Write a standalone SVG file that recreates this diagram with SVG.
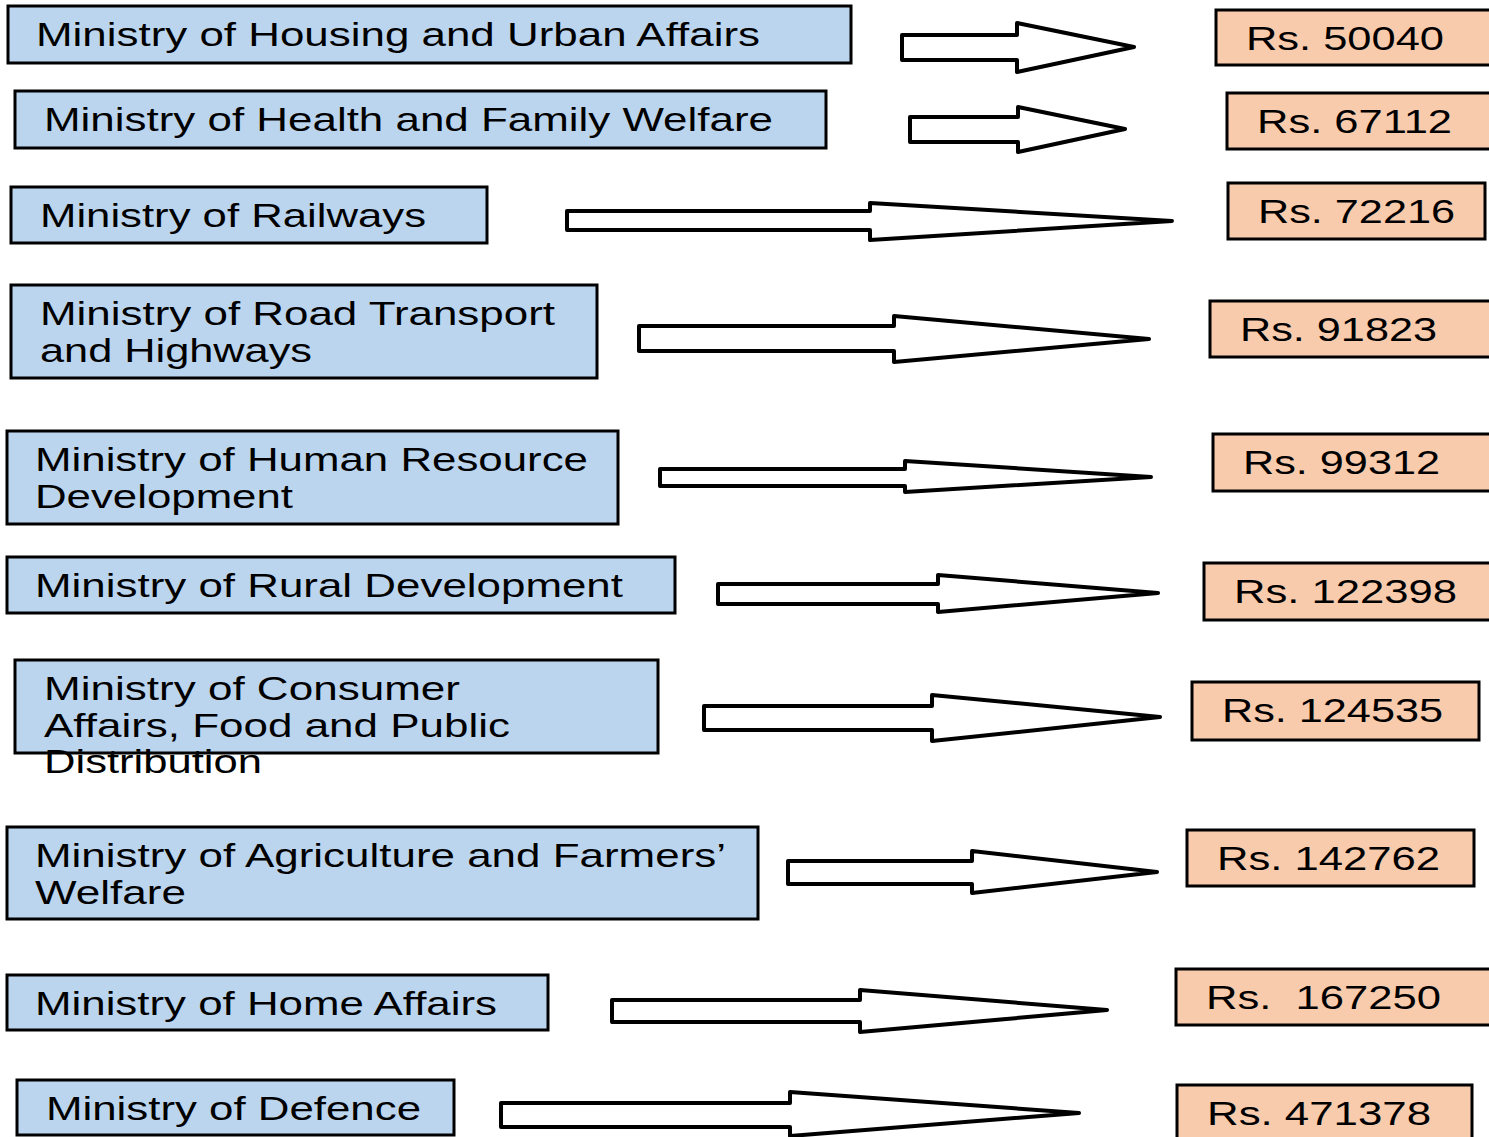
<svg xmlns="http://www.w3.org/2000/svg" width="1489" height="1137" viewBox="0 0 1489 1137">
<style>
.m{fill:#bcd5ee;stroke:#000;stroke-width:3}
.r{fill:#f8cbad;stroke:#000;stroke-width:3}
.t{font-family:"Liberation Sans",Arial,sans-serif;font-size:33px;fill:#000}
.a{fill:#fff;stroke:#000;stroke-width:4;stroke-linejoin:round}
</style>
<rect width="1489" height="1137" fill="#fff"/>
<g id="connectors">
<polygon class="a" points="902,35 1017,35 1017,23 1134,47 1017,72 1017,60 902,60"/>
<polygon class="a" points="910,117 1018,117 1018,107 1125,129 1018,152 1018,142 910,142"/>
<polygon class="a" points="567,211 870,211 870,203 1172,221 870,240 870,230 567,230"/>
<polygon class="a" points="639,326 894,326 894,316 1149,339 894,362 894,351 639,351"/>
<polygon class="a" points="660,469 905,469 905,461 1151,477 905,492 905,486 660,486"/>
<polygon class="a" points="718,584 938,584 938,575 1158,593 938,612 938,604 718,604"/>
<polygon class="a" points="704,706 932,706 932,695 1160,717 932,741 932,730 704,730"/>
<polygon class="a" points="788,861 972,861 972,851 1157,872 972,893 972,884 788,884"/>
<polygon class="a" points="612,1000 860,1000 860,990 1107,1010 860,1032 860,1022 612,1022"/>
<polygon class="a" points="501,1103 790,1103 790,1092 1079,1113 790,1136 790,1127 501,1127"/>
</g>
<g id="m1"><rect class="m" x="8" y="6" width="843" height="57"/><text class="t" x="36" y="46" textLength="724" lengthAdjust="spacingAndGlyphs">Ministry of Housing and Urban Affairs</text></g>
<g id="m2"><rect class="m" x="15" y="91" width="811" height="57"/><text class="t" x="44" y="131" textLength="729" lengthAdjust="spacingAndGlyphs">Ministry of Health and Family Welfare</text></g>
<g id="m3"><rect class="m" x="11" y="187" width="476" height="56"/><text class="t" x="40" y="227" textLength="386" lengthAdjust="spacingAndGlyphs">Ministry of Railways</text></g>
<g id="m4"><rect class="m" x="11" y="285" width="586" height="93"/><text class="t" x="40" y="325" textLength="515" lengthAdjust="spacingAndGlyphs">Ministry of Road Transport</text><text class="t" x="40" y="362" textLength="272" lengthAdjust="spacingAndGlyphs">and Highways</text></g>
<g id="m5"><rect class="m" x="7" y="431" width="611" height="93"/><text class="t" x="35" y="471" textLength="553" lengthAdjust="spacingAndGlyphs">Ministry of Human Resource</text><text class="t" x="35" y="508" textLength="258" lengthAdjust="spacingAndGlyphs">Development</text></g>
<g id="m6"><rect class="m" x="7" y="557" width="668" height="56"/><text class="t" x="35" y="597" textLength="588" lengthAdjust="spacingAndGlyphs">Ministry of Rural Development</text></g>
<g id="m7"><rect class="m" x="15" y="660" width="643" height="93"/><text class="t" x="44" y="700" textLength="416" lengthAdjust="spacingAndGlyphs">Ministry of Consumer</text><text class="t" x="44" y="737" textLength="466" lengthAdjust="spacingAndGlyphs">Affairs, Food and Public</text><text class="t" x="44" y="773" textLength="218" lengthAdjust="spacingAndGlyphs">Distribution</text></g>
<g id="m8"><rect class="m" x="7" y="827" width="751" height="92"/><text class="t" x="35" y="867" textLength="691" lengthAdjust="spacingAndGlyphs">Ministry of Agriculture and Farmers’</text><text class="t" x="35" y="904" textLength="151" lengthAdjust="spacingAndGlyphs">Welfare</text></g>
<g id="m9"><rect class="m" x="7" y="975" width="541" height="55"/><text class="t" x="35" y="1015" textLength="462" lengthAdjust="spacingAndGlyphs">Ministry of Home Affairs</text></g>
<g id="m10"><rect class="m" x="17" y="1080" width="437" height="55"/><text class="t" x="46" y="1120" textLength="375" lengthAdjust="spacingAndGlyphs">Ministry of Defence</text></g>
<g id="r1"><rect class="r" x="1216" y="10" width="280" height="55"/><text class="t" x="1246" y="50" textLength="198" lengthAdjust="spacingAndGlyphs">Rs. 50040</text></g>
<g id="r2"><rect class="r" x="1227" y="93" width="270" height="56"/><text class="t" x="1257" y="133" textLength="195" lengthAdjust="spacingAndGlyphs">Rs. 67112</text></g>
<g id="r3"><rect class="r" x="1228" y="183" width="257" height="56"/><text class="t" x="1258" y="223" textLength="197" lengthAdjust="spacingAndGlyphs">Rs. 72216</text></g>
<g id="r4"><rect class="r" x="1210" y="301" width="286" height="56"/><text class="t" x="1240" y="341" textLength="197" lengthAdjust="spacingAndGlyphs">Rs. 91823</text></g>
<g id="r5"><rect class="r" x="1213" y="434" width="283" height="57"/><text class="t" x="1243" y="474" textLength="197" lengthAdjust="spacingAndGlyphs">Rs. 99312</text></g>
<g id="r6"><rect class="r" x="1204" y="563" width="292" height="57"/><text class="t" x="1234" y="603" textLength="223" lengthAdjust="spacingAndGlyphs">Rs. 122398</text></g>
<g id="r7"><rect class="r" x="1192" y="682" width="287" height="58"/><text class="t" x="1222" y="722" textLength="221" lengthAdjust="spacingAndGlyphs">Rs. 124535</text></g>
<g id="r8"><rect class="r" x="1187" y="830" width="287" height="56"/><text class="t" x="1217" y="870" textLength="223" lengthAdjust="spacingAndGlyphs">Rs. 142762</text></g>
<g id="r9"><rect class="r" x="1176" y="969" width="320" height="56"/><text class="t" x="1206" y="1009" textLength="235" lengthAdjust="spacingAndGlyphs" xml:space="preserve">Rs.  167250</text></g>
<g id="r10"><rect class="r" x="1177" y="1085" width="295" height="60"/><text class="t" x="1207" y="1125" textLength="224" lengthAdjust="spacingAndGlyphs">Rs. 471378</text></g>
</svg>
